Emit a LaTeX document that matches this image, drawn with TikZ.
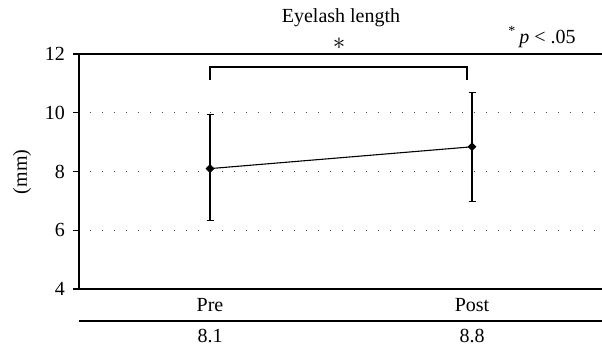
\documentclass[tikz,border=0pt]{standalone}
\usepackage{fontspec}
\setmainfont{Liberation Serif}
\usepackage{tikz}
\usetikzlibrary{positioning,shapes.geometric}
\tikzset{
  axisline/.style={line width=1.1pt},
  gridline/.style={line width=0.9pt, black!70, dash pattern=on 0.9pt off 11.1pt, dash phase=-11pt},
  errbar/.style={line width=1.1pt},
  mean/.style={diamond, fill=black, inner sep=0pt, minimum size=9pt},
  lab/.style={font=\fontsize{20}{23}\selectfont, inner sep=0pt},
  ticklab/.style={font=\fontsize{20}{23}\selectfont, anchor=east, inner sep=0pt},
}

\begin{document}
\begin{tikzpicture}[x=1pt,y=1pt]
\useasboundingbox (0,0) rectangle (602,346);
% frame
\coordinate (ol) at (79,57);
\coordinate (or) at (602,57);
\coordinate (tl) at (79,292);
\coordinate (tr) at (602,292);
\coordinate (bl) at (79,25);
\coordinate (br) at (602,25);
\draw[axisline] (ol) -- (tl);
\draw[axisline] (ol) -- (or);
\draw[axisline] (tl) -- (tr);
\draw[axisline] (bl) -- (br);
% y ticks and grid
\foreach \v/\yy in {4/57,6/115.75,8/174.5,10/233.25,12/292}{
  \draw[axisline] (73,\yy) -- (79,\yy);
  \node[ticklab] (t\v) at (65,\yy) {\v};
}
\foreach \yy in {115.75,174.5,233.25}{
  \draw[gridline] (79,\yy) -- (602,\yy);
}
\node[lab, rotate=90] (unit) at (22,174) {(mm)};
% data
\node[mean] (pre) at (210,177.4) {};
\node[mean] (post) at (472,199.2) {};
\coordinate (pretop) at (210,231.2);
\coordinate (prebot) at (210,125.4);
\coordinate (posttop) at (472,253.8);
\coordinate (postbot) at (472,144.2);
\draw[errbar] (pretop) -- (prebot);
\draw[errbar] (posttop) -- (postbot);
\foreach \c in {pretop,prebot,posttop,postbot}{
  \draw[errbar] ([xshift=-3.5pt]\c) -- ([xshift=3.5pt]\c);
}
\draw[axisline] (pre.center) -- (post.center);
% significance
\coordinate (sl) at (210,266);
\coordinate (sr) at (467,266);
\draw[axisline] (sl) -- ++(0,13) -| (sr);
\node[lab] (title) at (341,328) {Eyelash length};
\node[lab, font=\fontsize{25}{25}\selectfont] (star) at (339,302) {$\ast$};
\node[lab] (note) at (542,309) {\textsuperscript{*}\,\textit{p} < .05};
% groups
\node[lab] (lpre) at (210,41) {Pre};
\node[lab] (lpost) at (472,41) {Post};
\node[lab] (vpre) at (210,10) {8.1};
\node[lab] (vpost) at (472,10) {8.8};
\end{tikzpicture}
\end{document}
